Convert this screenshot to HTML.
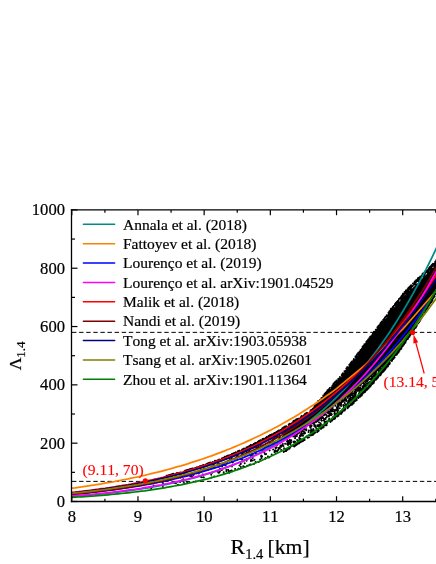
<!DOCTYPE html>
<html><head><meta charset="utf-8"><title>Lambda-R</title>
<style>text{stroke-width:0.2px;font-kerning:none}html,body{margin:0;padding:0;background:#fff;width:436px;height:564px;overflow:hidden;font-family:"Liberation Serif",serif}</style>
</head><body>
<svg width="436" height="564" viewBox="0 0 436 564" style="position:absolute;left:0;top:0;will-change:transform;font-family:'Liberation Serif',serif">
<rect width="436" height="564" fill="#fff"/>
<defs><clipPath id="c"><rect x="72" y="210" width="364" height="291.5"/></clipPath></defs>
<g stroke="#000" stroke-width="1" stroke-dasharray="4.4,2.7" fill="none">
<path d="M72 481.39H436"/>
<path d="M72 332.37H436"/>
</g>
<g clip-path="url(#c)">
<path fill="#000" d="M283.6 429.2 L284.9 428.4 L286.2 427.5 L287.5 426.7 L288.9 425.9 L290.2 425.0 L291.5 424.2 L292.8 423.4 L294.2 422.5 L295.5 421.7 L296.8 420.9 L298.1 420.0 L299.5 419.2 L300.8 418.4 L302.1 417.5 L303.4 416.7 L304.8 415.9 L306.1 415.0 L307.4 414.2 L308.7 413.4 L310.0 412.5 L311.4 410.9 L312.7 409.4 L314.0 407.8 L315.3 406.3 L316.7 404.7 L318.0 403.2 L319.3 401.7 L320.6 400.1 L322.0 398.6 L323.3 397.1 L324.6 395.6 L325.9 394.0 L327.3 392.5 L328.6 391.0 L329.9 389.5 L331.2 388.0 L332.5 386.5 L333.9 385.0 L335.2 383.5 L336.5 382.1 L337.8 380.6 L339.2 379.1 L340.5 377.6 L341.8 376.2 L343.1 374.4 L344.5 372.7 L345.8 371.0 L347.1 369.2 L348.4 367.5 L349.8 365.8 L351.1 364.1 L352.4 362.3 L353.7 360.6 L355.1 358.8 L356.4 356.9 L357.7 355.1 L359.0 353.3 L360.3 351.5 L361.7 349.7 L363.0 347.9 L364.3 346.1 L365.6 344.4 L367.0 342.6 L368.3 340.9 L369.6 339.2 L370.9 337.5 L372.3 335.8 L373.6 334.1 L374.9 332.4 L376.2 330.7 L377.6 328.9 L378.9 327.1 L380.2 325.4 L381.5 323.6 L382.8 321.9 L384.2 320.2 L385.5 318.5 L386.8 316.9 L388.1 315.1 L389.5 313.3 L390.8 311.4 L392.1 309.8 L393.4 308.3 L394.8 306.8 L396.1 305.2 L397.4 303.7 L398.7 302.2 L400.1 300.7 L401.4 299.2 L402.7 297.6 L404.0 296.1 L405.3 294.6 L406.7 293.1 L408.0 291.9 L409.3 290.7 L410.6 289.6 L412.0 288.4 L413.3 287.2 L414.6 286.0 L415.9 284.8 L417.3 283.5 L418.6 282.2 L419.9 280.9 L421.2 279.6 L422.6 278.3 L423.9 276.9 L425.2 275.6 L426.5 274.3 L427.8 273.0 L429.2 271.7 L430.5 270.4 L431.8 269.1 L433.1 267.8 L434.5 266.5 L435.8 265.2 L437.1 263.8 L438.4 262.3 L439.8 260.8 L441.1 259.3 L442.4 257.7 L442.4 280.1 L441.1 282.6 L439.8 285.0 L438.4 287.4 L437.1 289.8 L435.8 292.2 L434.5 294.6 L433.1 296.9 L431.8 299.2 L430.5 301.5 L429.2 303.7 L427.8 306.0 L426.5 308.2 L425.2 310.4 L423.9 312.6 L422.6 314.7 L421.2 316.8 L419.9 318.9 L418.6 321.0 L417.3 323.1 L415.9 325.2 L414.6 327.2 L413.3 329.2 L412.0 331.2 L410.6 333.1 L409.3 335.1 L408.0 337.0 L406.7 338.9 L405.3 340.8 L404.0 342.7 L402.7 344.5 L401.4 346.4 L400.1 348.2 L398.7 350.0 L397.4 351.8 L396.1 353.5 L394.8 354.9 L393.4 356.2 L392.1 357.5 L390.8 358.9 L389.5 360.2 L388.1 361.4 L386.8 362.7 L385.5 364.0 L384.2 365.2 L382.8 366.4 L381.5 367.7 L380.2 368.9 L378.9 370.0 L377.6 371.2 L376.2 372.4 L374.9 373.6 L373.6 374.7 L372.3 375.8 L370.9 377.0 L369.6 378.1 L368.3 379.1 L367.0 380.2 L365.6 381.3 L364.3 382.3 L363.0 383.4 L361.7 384.4 L360.3 385.5 L359.0 386.5 L357.7 387.5 L356.4 388.5 L355.1 389.5 L353.7 390.5 L352.4 391.4 L351.1 392.4 L349.8 393.4 L348.4 394.3 L347.1 395.3 L345.8 396.2 L344.5 397.1 L343.1 398.0 L341.8 399.0 L340.5 399.9 L339.2 400.8 L337.8 401.7 L336.5 402.5 L335.2 403.7 L333.9 404.9 L332.5 406.0 L331.2 407.1 L329.9 408.3 L328.6 409.4 L327.3 410.5 L325.9 411.6 L324.6 412.6 L323.3 413.7 L322.0 414.8 L320.6 415.8 L319.3 416.8 L318.0 417.9 L316.7 418.9 L315.3 419.9 L314.0 420.9 L312.7 421.9 L311.4 422.8 L310.0 423.8 L308.7 424.7 L307.4 425.7 L306.1 426.6 L304.8 427.5 L303.4 428.4 L302.1 429.3 L300.8 430.2 L299.5 431.1 L298.1 432.0 L296.8 432.8 L295.5 433.7 L294.2 434.5 L292.8 435.4 L291.5 436.2 L290.2 437.0 L288.9 437.8 L287.5 438.6 L286.2 439.4 L284.9 440.2 L283.6 441.0Z"/>
<path fill="none" stroke="#000" stroke-width="2" stroke-linecap="round" d="M137.0 485.8h0M137.6 483.7h0M146.3 482.7h0M147.5 482.8h0M151.2 488.5h0M153.6 485.5h0M153.9 485.9h0M154.4 482.3h0M154.3 479.5h0M156.2 480.6h0M156.8 482.4h0M157.3 480.6h0M157.5 481.4h0M157.7 479.7h0M162.4 482.0h0M162.9 486.9h0M163.1 480.5h0M163.1 483.3h0M168.7 476.8h0M170.6 479.8h0M170.7 475.9h0M172.0 475.2h0M174.6 477.4h0M174.8 482.8h0M174.7 482.9h0M175.9 483.3h0M175.8 475.7h0M175.6 477.0h0M178.0 484.7h0M177.7 485.0h0M180.4 477.4h0M180.1 482.0h0M180.8 481.1h0M180.9 473.9h0M182.0 476.1h0M181.6 480.5h0M183.5 481.8h0M183.2 479.2h0M184.0 471.9h0M184.3 483.3h0M184.7 473.5h0M184.8 473.4h0M186.8 475.5h0M187.3 482.4h0M187.8 470.7h0M189.4 475.0h0M189.8 475.5h0M190.2 476.0h0M191.4 475.7h0M191.8 476.4h0M192.3 473.9h0M193.0 477.5h0M193.5 475.1h0M193.8 469.6h0M195.9 477.0h0M196.0 469.2h0M195.7 481.4h0M196.5 473.2h0M196.8 472.3h0M198.8 473.5h0M200.5 467.0h0M200.6 468.9h0M200.7 476.7h0M201.7 477.2h0M202.6 466.4h0M202.8 474.6h0M203.6 477.3h0M203.8 477.4h0M203.8 468.9h0M204.3 466.3h0M208.1 469.8h0M211.0 468.6h0M211.0 463.8h0M211.2 474.8h0M211.7 477.6h0M212.1 466.2h0M212.1 463.5h0M212.2 472.8h0M213.7 464.3h0M213.6 467.4h0M213.7 467.2h0M214.2 476.6h0M214.1 465.7h0M214.3 466.0h0M214.6 467.8h0M216.2 461.2h0M217.4 471.4h0M218.0 464.0h0M217.9 461.7h0M218.5 472.8h0M218.8 466.8h0M219.0 472.6h0M218.8 472.4h0M219.1 460.1h0M219.1 464.0h0M219.3 472.5h0M219.6 465.9h0M219.9 471.5h0M220.1 468.7h0M220.7 459.9h0M221.5 469.9h0M221.9 465.0h0M222.2 460.0h0M222.2 469.7h0M222.1 466.4h0M223.8 464.9h0M223.6 464.1h0M223.7 472.3h0M224.5 463.7h0M224.3 473.7h0M225.6 465.4h0M226.3 469.9h0M226.4 471.3h0M227.3 456.8h0M227.2 462.5h0M228.1 469.7h0M228.9 471.4h0M228.7 470.8h0M229.3 472.8h0M229.6 458.8h0M230.7 470.9h0M231.2 457.0h0M231.6 465.9h0M231.8 466.2h0M231.9 466.6h0M231.6 458.1h0M231.6 470.4h0M231.7 461.2h0M232.2 471.3h0M232.8 462.4h0M235.1 468.9h0M234.6 459.6h0M236.2 455.6h0M236.8 458.2h0M236.7 457.5h0M236.7 453.3h0M237.4 459.6h0M237.7 455.4h0M238.5 468.8h0M238.9 452.1h0M239.5 456.8h0M239.5 465.5h0M239.2 468.9h0M240.8 463.6h0M240.6 459.1h0M240.7 463.9h0M240.9 467.1h0M241.4 453.7h0M241.8 451.1h0M242.1 459.5h0M242.3 454.0h0M243.0 452.9h0M242.7 461.5h0M242.8 450.3h0M242.8 460.8h0M243.2 466.3h0M244.2 460.4h0M244.7 466.8h0M244.7 463.3h0M244.9 451.7h0M245.2 451.0h0M245.4 454.7h0M245.7 454.0h0M246.1 448.9h0M247.0 450.2h0M246.6 460.8h0M246.7 459.0h0M246.7 453.2h0M246.6 450.0h0M246.7 451.6h0M247.2 465.7h0M247.8 448.1h0M248.0 452.7h0M247.7 449.8h0M248.5 453.2h0M248.6 447.5h0M249.2 451.4h0M249.4 464.8h0M249.4 450.1h0M249.9 446.8h0M250.3 449.2h0M250.5 464.4h0M250.2 451.8h0M250.9 460.4h0M250.9 460.9h0M250.7 456.0h0M251.1 459.7h0M251.6 446.2h0M251.7 454.4h0M252.3 446.3h0M252.3 457.6h0M252.3 448.2h0M252.4 455.6h0M252.7 460.5h0M252.7 454.2h0M252.7 458.0h0M253.5 446.5h0M253.8 463.9h0M254.0 447.4h0M254.5 451.6h0M254.5 459.8h0M255.5 446.0h0M255.9 446.9h0M255.6 461.9h0M255.9 453.4h0M255.7 446.2h0M256.4 446.6h0M256.9 447.6h0M256.7 445.2h0M257.1 443.4h0M257.3 448.6h0M257.9 444.4h0M258.5 446.5h0M259.0 448.3h0M258.7 462.0h0M259.5 441.9h0M259.5 448.2h0M259.8 441.7h0M260.0 452.6h0M259.9 442.4h0M260.3 445.0h0M260.1 459.4h0M261.0 442.4h0M260.8 460.5h0M261.0 441.5h0M261.2 455.4h0M261.5 446.8h0M261.1 456.5h0M261.3 443.5h0M261.9 443.7h0M261.6 458.0h0M262.1 456.3h0M262.3 450.5h0M262.8 449.9h0M262.8 451.6h0M263.3 450.5h0M263.8 441.6h0M263.6 440.6h0M263.6 446.1h0M264.1 450.4h0M264.4 452.7h0M264.7 447.2h0M265.1 454.3h0M265.3 458.7h0M265.5 458.0h0M265.4 440.6h0M265.9 443.5h0M266.1 453.9h0M266.5 446.4h0M266.7 446.2h0M267.9 456.4h0M268.4 446.0h0M268.5 442.5h0M268.3 446.6h0M268.9 457.5h0M269.3 457.2h0M269.4 442.0h0M269.6 450.4h0M270.2 448.2h0M270.1 436.3h0M270.4 437.8h0M270.3 442.9h0M270.6 447.7h0M270.7 436.0h0M271.3 438.5h0M271.6 443.1h0M271.7 454.5h0M272.5 446.6h0M272.8 446.5h0M272.9 440.0h0M273.0 441.9h0M273.3 443.6h0M273.1 437.7h0M273.1 449.6h0M273.9 436.8h0M273.9 442.8h0M274.1 438.3h0M274.4 452.0h0M274.9 450.6h0M275.2 434.7h0M275.2 433.9h0M275.4 447.8h0M275.8 448.6h0M275.9 436.9h0M275.7 453.4h0M275.6 451.0h0M276.5 447.2h0M277.0 435.9h0M276.9 444.1h0M277.0 445.0h0M277.2 436.8h0M277.1 443.6h0M277.1 451.1h0M277.1 432.7h0M277.2 451.6h0M277.1 434.0h0M278.2 442.3h0M278.5 448.1h0M278.1 450.0h0M278.5 449.4h0M278.6 432.7h0M279.0 448.6h0M279.4 432.2h0M279.2 433.8h0M279.1 438.0h0M279.2 434.7h0M279.9 448.2h0M279.8 431.1h0M279.9 437.9h0M279.9 436.1h0M280.1 447.0h0M280.2 430.6h0M280.5 445.5h0M281.2 438.3h0M281.2 446.8h0M281.2 450.0h0M281.6 441.4h0M281.9 445.4h0M281.9 445.3h0M282.5 430.2h0M282.2 429.5h0M282.5 432.9h0M282.8 436.7h0M282.9 443.9h0M282.7 441.1h0M283.4 446.1h0M283.6 438.9h0M284.0 436.1h0M283.6 431.6h0M284.1 448.2h0M285.1 443.8h0M285.9 449.1h0M287.0 441.5h0M287.1 444.0h0M287.2 439.6h0M287.3 438.5h0M287.6 441.7h0M287.8 443.3h0M288.0 444.9h0M288.2 441.0h0M288.5 444.4h0M288.7 441.1h0M288.6 443.0h0M288.9 440.7h0M288.9 444.0h0M289.4 440.8h0M289.9 442.7h0M289.8 439.8h0M289.6 446.9h0M290.5 444.0h0M290.8 441.2h0M291.3 440.3h0M291.2 445.7h0M291.2 442.2h0M291.7 445.9h0M292.8 435.1h0M293.2 436.5h0M293.5 441.8h0M293.7 442.3h0M294.5 441.6h0M295.0 435.2h0M294.9 436.4h0M295.1 438.2h0M295.2 441.8h0M295.2 442.0h0M295.6 436.5h0M296.8 434.6h0M296.9 435.9h0M297.5 440.5h0M297.1 439.9h0M297.4 440.6h0M297.1 432.2h0M297.6 432.4h0M297.9 433.4h0M298.4 441.0h0M299.3 437.5h0M299.3 438.2h0M299.3 440.1h0M299.2 432.7h0M299.3 431.6h0M299.3 431.1h0M299.3 431.7h0M299.8 439.2h0M299.9 435.6h0M299.7 439.2h0M300.4 436.2h0M300.4 430.3h0M301.0 434.0h0M300.9 430.0h0M300.7 435.7h0M300.7 438.9h0M301.3 433.1h0M301.5 434.5h0M301.5 431.6h0M302.0 433.6h0M301.9 435.4h0M302.3 431.0h0M303.0 435.7h0M302.6 433.4h0M303.5 429.4h0M303.9 433.8h0M303.9 433.4h0M303.9 429.2h0M303.9 431.7h0M303.6 428.4h0M304.7 432.3h0M304.8 429.4h0M304.8 429.6h0M305.0 433.3h0M304.8 427.4h0M306.3 429.3h0M306.5 436.5h0M306.3 430.3h0M306.4 426.6h0M306.6 425.8h0M307.1 436.3h0M307.9 425.1h0M308.4 424.9h0M308.5 432.0h0M308.9 430.5h0M309.4 434.9h0M309.1 424.0h0M309.9 426.0h0M310.0 424.7h0M310.3 427.5h0M310.7 432.2h0M310.9 430.4h0M311.2 429.2h0M311.5 423.3h0M311.5 430.7h0M311.4 426.4h0M311.7 432.6h0M311.9 430.2h0M312.0 432.7h0M311.6 425.5h0M312.5 431.4h0M312.5 422.3h0M312.9 431.0h0M312.7 432.2h0M312.8 422.5h0M312.7 430.8h0M313.3 429.1h0M313.2 423.5h0M313.4 430.0h0M313.9 430.3h0M314.3 426.0h0M314.1 422.6h0M314.4 422.5h0M314.3 424.7h0M315.1 420.5h0M314.6 424.4h0M315.2 426.8h0M315.1 425.8h0M316.3 428.2h0M316.4 430.3h0M316.5 428.7h0M316.1 421.9h0M316.6 419.5h0M317.3 425.3h0M317.5 419.5h0M317.3 421.2h0M317.5 425.9h0M317.2 426.2h0M318.0 429.5h0M318.2 420.4h0M318.9 426.6h0M319.0 424.9h0M318.6 417.6h0M319.2 417.8h0M319.1 419.7h0M319.1 422.5h0M319.1 419.5h0M319.1 424.9h0M319.7 427.6h0M320.0 427.7h0M320.5 417.0h0M320.4 426.2h0M320.6 423.2h0M320.6 418.1h0M320.8 424.3h0M321.1 420.1h0M321.5 418.4h0M321.7 420.7h0M322.4 425.4h0M322.3 416.8h0M322.2 417.8h0M323.0 417.4h0M322.9 414.5h0M323.0 417.5h0M323.0 414.0h0M322.6 418.1h0M323.7 424.6h0M323.6 420.2h0M323.9 415.3h0M324.4 413.7h0M324.2 418.9h0M324.6 414.8h0M324.8 421.5h0M324.6 421.4h0M324.7 422.5h0M325.3 423.4h0M325.2 423.0h0M325.5 414.2h0M325.6 419.0h0M325.8 418.1h0M326.5 421.5h0M326.4 415.1h0M327.0 421.9h0M326.8 417.0h0M327.2 422.7h0M327.1 412.5h0M327.9 411.0h0M327.6 412.3h0M328.4 420.7h0M328.1 409.9h0M328.3 415.8h0M328.1 413.0h0M328.6 420.2h0M328.9 416.4h0M329.3 419.5h0M329.5 413.7h0M329.2 418.7h0M329.2 411.6h0M330.0 414.9h0M329.7 420.4h0M329.9 413.6h0M329.8 412.9h0M329.8 409.0h0M329.6 414.7h0M330.4 408.1h0M330.4 411.2h0M330.3 411.3h0M330.4 419.9h0M330.3 411.0h0M330.5 413.4h0M330.2 411.4h0M330.8 410.8h0M330.6 414.3h0M330.6 408.9h0M330.8 411.1h0M331.5 414.1h0M331.3 414.9h0M331.8 414.6h0M331.7 410.5h0M331.8 409.3h0M331.8 411.5h0M333.0 409.3h0M332.9 409.5h0M332.6 407.6h0M332.8 417.2h0M333.4 411.0h0M333.9 417.6h0M334.4 413.4h0M334.5 415.8h0M334.6 415.6h0M334.8 414.2h0M335.0 410.6h0M334.8 411.6h0M335.0 414.4h0M334.7 412.0h0M334.8 409.9h0M334.7 413.6h0M335.5 414.1h0M335.3 410.2h0M335.2 405.8h0M335.7 415.5h0M336.0 414.5h0M335.7 416.0h0M336.3 403.1h0M336.5 409.3h0M336.7 410.2h0M336.9 415.1h0M336.6 409.3h0M336.8 407.2h0M336.8 409.8h0M337.0 414.1h0M336.8 408.7h0M337.5 406.0h0M337.3 413.0h0M337.5 403.2h0M337.5 411.1h0M337.5 415.3h0M337.8 408.3h0M337.6 403.9h0M338.4 406.6h0M338.4 405.2h0M338.2 401.1h0M338.3 412.4h0M338.2 410.1h0M338.8 414.1h0M338.6 406.2h0M338.9 402.8h0M338.6 402.1h0M339.4 400.5h0M339.4 404.7h0M339.1 405.1h0M339.1 403.9h0M339.3 412.5h0M339.8 411.9h0M339.8 412.8h0M339.7 408.3h0M340.5 411.6h0M340.4 403.7h0M340.3 412.4h0M341.0 403.4h0M340.9 405.7h0M340.6 402.5h0M340.6 404.1h0M341.2 406.0h0M341.1 404.3h0M341.5 400.6h0M341.7 402.3h0M341.9 399.1h0M342.5 401.8h0M342.3 400.0h0M342.5 409.2h0M342.7 410.3h0M342.8 410.2h0M342.8 400.9h0M343.2 405.1h0M343.4 400.8h0M343.5 400.3h0M343.7 407.1h0M343.8 405.6h0M343.7 401.2h0M344.2 407.7h0M344.7 402.9h0M344.7 397.4h0M344.6 399.4h0M345.1 399.7h0M345.4 404.7h0M345.3 400.6h0M345.4 404.5h0M345.5 399.3h0M345.4 400.6h0M345.1 398.5h0M345.6 396.4h0M345.7 398.3h0M345.6 400.6h0M346.2 404.4h0M346.4 400.9h0M346.1 399.8h0M346.4 405.8h0M346.9 405.6h0M347.4 396.2h0M347.7 402.9h0M348.0 403.5h0M347.6 397.8h0M348.3 402.5h0M348.5 400.2h0M348.4 395.6h0M348.4 394.6h0M348.2 403.8h0M348.5 400.7h0M348.3 401.7h0M348.1 397.1h0M348.9 395.4h0M348.7 401.7h0M348.8 396.6h0M349.2 400.0h0M349.3 403.0h0M349.1 402.4h0M349.4 401.3h0M349.4 398.8h0M349.6 395.4h0M349.7 396.3h0M349.8 401.3h0M350.1 396.9h0M350.1 393.5h0M350.8 397.9h0M350.8 394.5h0M351.0 392.4h0M350.9 399.8h0M350.9 403.1h0M350.7 395.2h0M351.5 400.8h0M352.0 400.5h0M351.7 400.0h0M352.0 393.7h0M351.7 395.2h0M351.7 397.8h0M352.4 397.6h0M352.4 400.5h0M352.6 397.3h0M352.6 398.5h0M353.0 395.8h0M352.6 391.8h0M352.6 395.8h0M353.5 399.8h0M353.8 393.8h0M354.0 397.4h0M353.6 400.1h0M353.8 393.4h0M353.7 396.3h0M354.3 393.3h0M354.7 396.0h0M355.0 395.5h0M354.9 394.6h0M354.7 392.6h0M354.6 398.9h0M354.9 391.4h0M354.6 394.2h0M354.7 396.5h0M355.5 390.9h0M355.1 394.9h0M355.2 398.2h0M355.3 390.0h0M355.3 391.7h0M355.8 394.1h0M355.8 389.5h0M355.8 389.4h0M356.5 389.3h0M356.1 392.4h0M356.3 398.4h0M356.1 396.4h0M356.1 396.4h0M356.2 390.7h0M357.4 396.7h0M357.3 396.5h0M357.5 397.0h0M357.4 389.2h0M357.9 390.9h0M357.9 396.8h0M357.9 387.5h0M357.8 388.1h0M358.3 388.7h0M358.3 395.2h0M358.1 387.9h0M358.5 387.8h0M358.6 390.2h0M358.8 395.1h0M359.0 393.3h0M359.1 389.4h0M360.0 387.4h0M359.7 392.3h0M359.6 390.3h0M360.2 388.4h0M360.3 393.9h0M360.1 385.6h0M360.3 388.7h0M360.7 390.4h0M360.8 385.0h0M360.6 394.3h0M361.2 389.2h0M361.3 389.8h0M361.5 393.6h0M362.0 391.3h0M362.5 391.8h0M362.2 390.0h0M362.4 390.8h0M362.4 388.4h0M362.3 386.9h0M362.7 386.4h0M363.1 386.0h0M363.5 382.9h0M363.3 387.0h0M363.2 388.0h0M363.7 385.2h0M364.3 383.6h0M364.2 390.9h0M364.3 389.0h0M364.1 389.8h0M364.5 386.4h0M364.2 384.5h0M365.2 384.7h0M365.5 386.5h0M365.2 386.9h0M365.7 388.4h0M365.6 382.0h0M366.0 385.5h0M366.0 386.4h0M366.2 386.2h0M366.3 380.9h0M366.4 380.8h0M366.3 383.3h0M366.8 387.8h0M366.6 388.3h0M366.9 385.2h0M367.1 380.9h0M367.8 383.6h0M367.9 383.8h0M367.7 384.1h0M368.5 385.0h0M368.2 382.5h0M368.5 383.0h0M368.1 379.9h0M368.4 382.7h0M368.6 378.7h0M368.8 378.9h0M368.6 382.8h0M368.7 385.9h0M368.6 379.6h0M369.2 384.1h0M369.3 385.7h0M369.2 383.0h0M369.6 383.2h0M369.8 382.6h0M369.6 384.3h0M369.8 381.9h0M370.3 379.2h0M370.2 378.9h0M370.4 382.9h0M370.6 379.5h0M371.0 383.2h0M370.9 378.8h0M371.1 382.9h0M371.4 381.4h0M371.3 379.7h0M372.0 377.2h0M371.7 383.1h0M371.6 376.1h0M371.6 382.9h0M371.6 382.5h0M372.1 380.3h0M372.5 377.9h0M372.9 376.7h0M372.6 379.9h0M372.7 378.6h0M373.2 381.4h0M373.1 380.6h0M373.9 375.4h0M373.9 375.2h0M374.5 377.1h0M374.2 376.1h0M374.6 375.1h0M374.8 373.6h0M374.8 376.0h0M374.6 375.7h0M375.3 374.9h0M375.2 379.1h0M375.3 375.4h0M375.6 373.8h0M375.4 373.0h0M375.2 378.8h0M375.2 376.8h0M375.2 374.4h0M375.7 376.8h0M375.8 376.5h0M376.0 374.4h0M375.9 372.5h0M376.2 376.6h0M376.2 376.4h0M376.4 375.2h0M376.2 376.2h0M376.3 375.9h0M376.8 377.0h0M376.8 375.9h0M377.3 376.6h0M377.3 374.2h0M377.8 375.4h0M378.0 374.4h0M378.5 372.4h0M378.1 374.8h0M378.7 370.4h0M379.6 371.5h0M379.3 373.1h0M379.5 371.9h0M379.7 371.6h0M379.7 370.8h0M379.6 370.9h0M380.4 369.4h0M380.2 369.9h0M381.0 371.1h0M380.8 369.0h0M381.2 369.7h0M381.2 371.0h0M381.4 369.5h0M381.6 371.4h0M381.9 371.6h0M381.9 368.8h0M382.2 370.1h0M382.8 368.8h0M383.0 368.2h0M382.8 368.0h0M382.8 370.1h0M383.4 365.9h0M383.4 368.1h0M383.1 369.0h0M383.1 366.7h0M383.1 369.2h0M384.4 367.5h0M384.1 366.7h0M384.8 365.6h0M385.0 364.4h0M384.7 365.4h0M384.7 365.5h0M384.8 367.6h0M384.8 366.3h0M385.6 364.1h0M385.7 365.3h0M385.8 365.0h0M385.7 365.5h0M386.1 364.8h0M386.3 364.0h0M387.0 363.3h0M386.9 363.4h0M387.1 364.7h0M387.4 363.3h0M387.5 362.1h0M387.4 362.2h0M388.2 362.9h0M388.5 361.6h0M388.5 361.4h0M388.1 361.6h0M389.5 360.7h0M389.1 361.8h0M389.4 360.2h0M390.3 359.6h0M391.0 358.9h0M392.0 359.1h0M392.4 357.7h0M393.4 356.8h0M394.1 356.0h0M394.7 354.9h0M394.8 355.3h0M394.6 355.5h0M395.6 353.9h0M397.5 351.9h0M398.9 350.2h0M384.7 319.1h0M387.1 315.4h0M388.6 313.9h0M389.4 313.5h0M390.4 310.4h0M390.8 310.4h0M397.8 301.5h0M398.2 302.3h0M398.7 300.6h0M400.8 298.0h0M401.1 299.4h0M401.5 298.2h0M402.2 297.9h0M402.8 296.7h0M403.3 295.9h0M405.0 292.7h0M404.9 292.9h0M406.1 293.5h0M406.3 293.4h0M406.2 291.6h0M406.4 292.7h0M406.5 290.9h0M407.3 293.0h0M407.3 292.3h0M407.3 292.5h0M407.8 292.0h0M408.3 290.7h0M408.8 291.1h0M409.4 289.0h0M410.7 287.9h0M410.7 289.3h0M410.9 288.3h0M411.3 287.2h0M411.1 289.0h0M411.6 285.5h0M412.6 286.2h0M414.4 283.6h0M414.7 284.2h0M415.2 282.2h0M415.3 282.8h0M416.0 284.6h0M416.6 284.4h0M416.6 284.5h0M417.6 279.6h0M418.5 280.0h0M418.4 280.8h0M419.3 281.7h0M419.2 278.4h0M419.8 279.1h0M420.1 279.8h0M420.3 279.1h0M420.4 280.0h0M421.2 279.7h0M421.2 279.1h0M423.1 276.5h0M422.9 275.7h0M423.7 274.8h0M423.6 275.4h0M424.0 277.0h0M424.2 275.9h0M424.0 273.8h0M424.4 274.8h0M424.8 273.3h0M424.7 273.4h0M426.4 272.0h0M426.8 271.5h0M427.5 271.3h0M427.9 272.9h0M428.1 272.6h0M428.4 271.8h0M428.6 271.0h0M429.0 271.9h0M429.1 269.4h0M429.7 267.9h0M430.3 268.3h0M430.0 267.6h0M430.6 270.0h0M430.4 268.0h0M431.2 267.9h0M431.3 269.3h0M431.0 267.9h0M431.4 269.3h0M432.2 268.9h0M434.3 266.0h0M434.6 263.9h0M435.2 265.4h0M435.1 266.0h0M435.3 265.3h0M435.7 264.7h0M435.7 263.0h0M435.4 264.3h0M436.0 262.3h0M437.2 260.6h0M437.3 261.6h0M436.8 262.8h0M172.7 474.4h0M168.0 475.9h0M197.5 467.9h0M166.8 476.7h0M171.0 474.8h0M201.9 465.7h0M184.2 471.6h0M177.4 473.9h0M176.9 474.1h0M212.6 462.3h0M166.3 476.8h0M166.1 476.4h0M189.7 469.3h0M202.0 466.3h0M199.3 466.7h0M195.0 468.4h0M177.9 473.8h0M223.8 458.5h0M221.7 458.6h0M223.2 457.7h0M192.9 468.4h0M191.5 469.6h0M206.6 464.3h0M184.8 470.9h0M188.4 470.0h0M176.0 474.2h0M195.2 468.1h0M176.2 474.1h0M176.2 473.5h0M197.8 467.6h0M222.4 458.9h0M220.9 459.7h0M207.5 464.4h0M168.2 475.5h0M165.2 477.2h0M207.5 464.3h0M180.2 472.5h0M174.2 474.5h0M223.5 457.9h0M167.1 475.7h0M185.6 471.7h0M212.4 462.3h0M170.5 474.8h0M173.6 474.9h0M192.5 469.7h0M218.8 460.4h0M192.8 469.4h0M172.1 474.3h0M198.0 467.3h0M176.9 473.2h0M165.7 477.1h0M206.8 465.0h0M222.9 458.3h0M208.1 463.7h0M212.8 462.7h0M172.4 474.1h0M177.2 473.6h0M187.0 470.0h0M213.9 462.2h0M192.1 468.5h0M217.4 460.5h0M168.7 475.5h0M201.7 466.6h0M193.3 469.0h0M176.7 473.3h0M218.4 459.9h0M170.6 475.4h0M172.0 474.5h0M191.6 469.4h0M202.4 466.1h0M190.6 469.0h0M207.6 463.4h0M192.5 468.9h0M204.5 465.4h0M178.7 473.3h0M205.7 464.7h0M172.9 475.3h0M200.1 466.0h0M178.7 473.8h0M178.1 473.1h0M211.4 463.1h0M202.2 466.2h0M166.7 475.7h0M222.6 458.9h0M166.7 475.7h0M178.8 473.7h0M177.5 473.7h0M219.9 459.7h0M219.2 459.5h0M173.6 473.8h0M209.5 462.8h0M222.4 458.9h0M175.6 474.4h0M174.1 474.4h0M170.8 475.7h0M217.4 461.0h0M164.6 477.3h0M197.6 467.9h0M194.4 468.6h0M199.9 467.1h0M169.1 475.1h0M196.9 467.3h0M188.1 469.7h0M208.8 462.9h0M213.9 462.2h0M191.7 468.7h0M203.2 465.1h0M190.0 469.2h0M222.6 458.5h0M185.4 470.6h0M207.9 464.4h0M215.0 460.8h0M186.3 470.6h0M209.9 462.7h0M200.6 467.1h0M210.2 462.4h0M168.9 475.2h0M205.7 464.8h0M195.4 468.0h0M188.7 470.3h0M363.5 347.6h0M381.6 323.6h0M420.4 278.0h0M378.2 326.3h0M370.5 338.4h0M316.7 405.0h0M262.7 441.3h0M319.0 401.9h0M278.4 431.3h0M299.0 418.4h0M244.4 449.4h0M435.0 263.2h0M424.5 273.7h0M404.0 295.1h0M385.9 316.6h0M277.7 432.0h0M228.5 455.7h0M414.6 283.8h0M294.7 422.2h0M390.7 311.2h0M394.9 305.1h0M246.6 449.3h0M291.5 423.9h0M303.0 416.4h0M431.7 265.1h0M338.2 379.9h0M339.8 378.8h0M311.7 411.0h0M372.4 336.2h0M243.3 449.3h0M285.8 428.2h0M226.9 456.4h0M378.0 328.9h0M261.9 440.4h0M371.8 336.3h0M384.5 319.7h0M277.5 431.8h0M230.0 456.3h0M269.0 436.3h0M431.4 266.6h0M351.2 363.7h0M352.6 361.9h0M289.4 423.8h0M238.4 451.0h0M301.8 416.2h0M248.3 447.6h0M432.5 265.6h0M282.8 429.7h0M262.3 439.4h0M289.2 424.8h0M372.3 335.0h0M380.7 323.1h0M424.5 272.7h0M403.0 293.8h0M402.3 295.3h0M407.9 290.2h0M368.3 339.8h0M226.1 456.6h0M418.6 278.0h0M365.8 343.7h0M366.2 342.1h0M254.9 443.2h0M435.4 262.1h0M364.3 345.6h0M272.0 434.3h0M227.2 457.8h0M252.0 446.9h0M302.2 417.4h0M253.8 445.5h0M278.1 431.6h0M336.5 380.4h0M277.4 433.2h0M285.4 427.1h0M388.5 312.8h0M265.7 437.9h0M306.6 413.7h0M362.0 348.6h0M411.1 285.2h0M366.8 343.1h0M274.5 432.9h0M318.3 401.2h0M322.9 397.4h0M244.2 448.7h0M327.2 391.2h0M273.6 434.4h0M249.5 445.9h0M301.7 417.1h0M425.5 272.3h0M239.4 451.1h0M384.1 319.7h0M411.2 287.3h0M408.5 287.8h0M427.0 270.7h0M275.6 432.7h0M410.0 286.6h0M241.9 450.1h0M422.8 274.7h0M381.3 322.2h0M321.5 398.1h0M268.2 437.8h0M301.7 416.2h0M435.7 262.0h0M262.7 438.9h0M364.5 345.3h0M229.3 456.0h0M383.3 320.7h0M274.4 434.2h0M354.1 359.8h0M255.2 444.8h0M427.4 270.8h0M408.4 288.6h0M418.2 278.5h0M272.8 435.2h0M417.9 278.5h0M270.7 434.9h0M318.4 401.1h0M265.2 439.5h0M349.5 366.6h0M310.5 411.8h0M226.7 458.2h0M274.2 434.2h0M334.1 385.3h0M329.9 390.1h0M357.6 353.9h0M403.4 293.8h0M439.0 258.2h0M272.7 436.2h0M293.2 422.2h0M297.8 420.0h0M229.0 455.9h0M258.9 443.0h0M224.0 458.4h0M279.5 431.0h0M344.9 372.1h0M253.6 444.2h0M249.9 447.9h0M256.1 442.7h0M336.3 381.8h0M414.7 281.6h0M274.4 433.3h0M350.0 364.7h0M312.0 410.5h0M366.3 343.7h0M429.8 267.3h0M426.6 270.8h0M235.1 454.7h0M246.4 447.4h0M286.3 426.3h0M432.0 266.7h0M314.4 406.8h0M406.6 291.5h0M364.6 345.1h0M249.1 446.5h0M365.6 344.0h0M396.3 304.3h0M431.0 265.9h0M240.4 452.3h0M346.7 368.4h0M372.9 333.8h0M274.9 433.6h0M336.7 381.7h0M239.8 452.2h0M358.3 353.6h0M368.6 340.7h0M226.1 457.3h0M369.8 338.8h0M363.3 346.0h0M430.2 268.2h0M274.1 434.1h0M430.0 266.9h0M312.0 410.7h0M417.6 279.2h0M382.2 321.8h0M366.7 343.0h0M251.5 445.3h0M270.2 435.7h0M231.7 454.2h0M311.4 410.1h0M240.7 451.4h0M426.7 271.1h0M300.5 418.4h0M318.1 401.7h0M327.6 390.2h0M369.4 338.0h0M303.5 417.1h0M388.9 313.7h0M362.1 348.8h0M375.6 332.0h0M266.2 439.0h0M288.7 424.7h0M400.7 298.1h0M406.8 291.5h0M350.7 363.2h0M227.2 457.0h0M380.1 324.3h0M239.1 450.7h0M261.3 441.4h0M224.9 457.2h0M281.0 430.7h0M436.3 260.2h0M248.6 448.5h0M432.6 264.2h0M296.1 420.7h0M292.9 422.5h0M327.0 391.5h0M235.8 452.3h0M259.0 441.1h0M358.2 354.2h0M280.6 431.2h0M380.8 323.6h0M329.8 388.1h0M423.8 273.9h0M235.0 452.8h0M373.0 334.0h0M378.2 326.7h0M395.5 305.1h0M244.3 449.8h0M265.2 439.4h0M396.9 303.2h0M273.8 433.5h0M366.7 342.5h0M253.7 444.0h0M349.3 364.8h0M360.4 350.2h0M279.6 430.9h0M338.7 379.6h0M230.7 456.1h0M271.5 435.1h0M361.6 349.6h0M356.2 357.5h0M268.0 437.0h0M366.5 342.0h0M257.9 442.0h0M389.9 312.2h0M378.1 328.7h0M394.9 304.6h0M291.9 423.9h0M236.0 453.5h0M243.2 448.9h0M334.5 382.8h0M424.4 274.1h0M323.3 395.6h0M249.7 446.9h0M336.1 381.5h0M378.1 327.6h0M390.8 309.1h0M239.1 451.6h0M328.0 390.4h0M367.8 340.2h0M292.5 422.9h0M377.2 329.4h0M304.0 415.6h0M423.5 275.1h0M357.1 354.3h0M322.0 398.2h0M283.9 427.2h0M435.0 263.7h0M251.7 445.7h0M357.2 354.6h0M238.8 452.7h0M389.8 311.4h0M242.4 450.1h0M244.2 450.7h0M235.0 453.1h0M389.2 311.6h0M246.9 447.2h0M259.3 442.0h0M403.2 294.0h0M261.4 441.5h0M315.6 404.9h0M250.5 445.8h0M433.0 263.7h0M279.8 431.5h0M415.8 282.6h0M325.7 394.8h0M353.9 359.1h0M324.1 396.1h0M381.9 321.6h0M265.7 439.8h0M247.0 449.0h0M296.9 419.5h0M278.9 431.4h0M437.1 259.7h0M407.8 289.1h0M261.2 441.6h0M297.5 419.0h0M314.0 408.0h0M409.6 287.9h0M226.3 457.9h0M354.5 359.9h0M428.8 268.4h0M406.5 291.6h0M281.2 429.7h0M304.6 414.9h0M305.4 413.9h0M272.9 436.0h0M312.3 409.5h0M414.9 283.2h0M276.6 434.0h0M397.0 303.7h0M380.6 324.8h0M398.9 299.5h0M365.1 344.1h0M404.6 292.1h0M340.0 377.2h0M400.5 297.7h0M405.5 292.8h0M413.0 283.5h0M425.8 272.4h0M369.6 339.0h0M234.3 454.9h0M341.8 375.4h0M297.0 420.8h0M392.3 309.2h0M270.1 436.0h0M277.6 431.3h0M294.4 420.6h0M395.3 303.8h0M239.2 450.8h0M383.4 319.7h0M323.4 396.1h0M396.6 304.1h0M290.7 424.4h0M416.5 280.9h0M417.5 280.5h0M291.0 424.8h0M347.3 367.3h0M350.4 365.2h0M335.5 382.5h0M313.6 408.6h0M367.2 341.0h0M302.0 416.6h0M430.2 268.0h0M250.9 447.3h0M231.5 455.4h0M317.0 404.2h0M316.4 403.4h0M336.6 382.1h0M393.7 306.1h0M271.8 436.1h0M396.5 302.4h0M414.0 284.7h0M317.2 403.1h0M376.7 330.5h0M267.4 437.3h0M294.8 422.1h0M264.2 439.5h0M331.6 387.3h0M254.8 445.4h0M439.1 258.4h0M395.1 304.0h0M419.8 277.9h0M387.4 316.1h0M301.8 418.1h0M268.6 435.9h0M332.1 387.4h0M417.7 280.9h0M333.9 385.4h0M344.5 371.2h0M359.7 352.4h0M315.2 406.1h0M279.8 430.4h0M314.4 406.8h0M324.7 393.7h0M225.2 457.3h0M378.2 328.0h0M275.0 433.2h0M335.1 382.1h0M353.7 361.0h0M267.5 437.9h0M379.0 326.9h0M377.2 329.3h0M282.6 430.0h0M423.0 273.5h0M427.1 270.4h0M242.6 449.3h0M395.4 304.8h0M254.6 444.3h0M361.4 350.7h0M296.3 421.2h0M276.7 432.1h0M258.7 442.0h0M357.0 355.0h0M258.8 441.5h0M242.3 449.7h0M291.9 423.3h0M263.5 439.7h0M318.6 403.0h0M328.6 391.4h0M325.4 393.2h0M351.3 362.2h0M260.4 440.3h0M374.9 333.0h0M310.8 410.6h0M315.5 405.1h0M372.6 334.5h0M256.8 444.1h0M347.2 367.3h0M406.7 291.1h0M300.3 418.4h0M421.9 275.4h0M317.1 403.1h0M343.2 374.1h0M382.1 323.3h0M255.3 443.7h0M407.2 290.9h0M350.9 364.1h0M297.2 421.1h0M342.2 374.8h0M263.2 438.9h0M417.1 281.2h0M229.8 455.4h0M327.2 391.9h0M302.2 417.8h0M299.3 418.8h0M423.9 274.0h0M326.6 392.2h0M307.3 413.9h0M393.1 306.7h0M303.7 415.6h0M302.1 417.9h0M339.9 377.0h0M295.5 421.8h0M258.5 442.8h0M228.7 455.5h0M236.8 453.7h0M255.6 443.2h0M236.4 452.5h0M381.8 323.2h0M419.8 278.8h0M342.5 375.7h0M243.3 451.1h0M317.4 402.5h0M384.9 319.4h0M307.0 412.8h0M411.8 286.2h0M352.4 362.9h0M232.2 453.7h0M250.7 445.1h0M376.4 330.2h0M248.2 446.8h0M262.9 440.3h0M368.7 341.0h0M301.6 418.4h0M317.5 402.9h0M278.5 431.1h0M433.6 265.3h0M375.8 329.7h0M262.7 439.3h0M299.5 419.1h0M236.7 453.0h0M370.4 336.4h0M318.6 402.6h0M347.8 367.5h0M413.6 284.1h0M296.5 420.2h0M426.9 271.6h0M420.8 276.9h0M254.7 443.5h0M306.5 414.6h0M225.0 458.5h0M393.1 307.3h0M225.2 458.4h0M313.1 408.7h0M346.6 369.8h0M311.9 410.8h0M429.5 269.2h0M356.3 355.9h0M305.0 414.5h0M418.4 279.8h0M393.5 307.5h0M437.1 261.0h0M292.5 423.6h0M280.4 430.8h0M258.1 443.4h0M329.1 389.1h0M422.5 274.0h0M424.1 274.1h0M256.1 444.2h0M347.3 369.3h0M350.2 364.4h0M424.8 271.8h0M391.2 308.6h0M283.5 427.6h0M411.4 285.8h0M380.2 324.1h0M381.1 323.9h0M245.0 449.2h0M379.3 325.3h0M364.7 344.3h0M303.7 416.9h0M426.9 272.0h0M315.8 405.3h0M397.9 302.0h0M322.1 398.7h0M310.3 412.6h0M325.7 392.7h0M385.1 317.3h0M370.2 336.7h0M436.6 261.2h0M383.3 319.7h0M361.0 349.7h0M277.6 433.1h0M231.2 455.2h0M242.7 451.2h0M416.1 280.2h0M323.9 395.6h0M378.6 327.4h0M297.8 420.7h0M263.9 438.7h0M399.2 298.7h0M264.0 439.5h0M296.4 419.7h0M424.0 273.5h0M393.0 306.7h0M420.3 276.5h0M419.0 278.8h0M432.9 265.5h0M359.7 351.8h0M407.9 289.3h0M245.2 450.2h0M397.3 302.5h0M384.2 318.7h0M323.7 396.8h0M430.9 267.8h0M258.5 442.8h0M343.2 373.5h0M260.1 440.6h0M325.2 394.2h0M281.6 429.5h0M343.2 374.4h0M350.8 363.0h0M414.6 282.5h0M430.4 268.4h0M254.2 444.8h0M432.0 265.5h0M341.8 375.1h0M230.2 455.0h0M250.7 445.8h0M359.4 352.3h0M428.0 270.1h0M301.9 418.1h0M360.4 350.9h0M409.5 288.2h0M301.5 417.5h0M288.6 426.6h0M276.5 434.2h0M237.9 451.2h0M343.0 373.2h0M333.2 384.2h0M404.0 294.2h0M371.2 337.6h0M437.4 260.6h0M377.4 327.2h0M234.6 453.7h0M432.4 264.8h0M346.3 368.4h0M313.4 408.9h0M350.8 364.6h0M226.8 456.3h0M262.6 441.1h0M245.9 449.9h0M281.5 430.8h0M334.9 382.8h0M431.9 265.6h0M374.0 331.8h0M402.6 296.7h0M247.8 448.5h0M282.2 428.6h0M302.4 417.1h0M429.1 269.8h0M437.7 260.1h0M364.6 344.3h0M380.2 324.9h0M301.2 418.4h0M278.9 430.6h0M258.0 441.7h0M350.6 364.8h0M258.4 442.4h0M347.6 368.1h0M312.8 408.7h0M227.3 455.8h0M314.9 405.5h0M386.8 315.3h0M401.2 296.6h0M243.9 449.7h0M307.4 413.2h0M388.6 312.7h0M368.1 341.3h0M321.4 398.6h0M422.7 275.1h0M262.9 439.0h0M241.7 450.3h0M243.1 450.5h0M315.1 405.4h0M334.2 385.1h0M276.6 432.1h0M289.7 424.3h0M419.7 278.3h0M316.3 403.7h0M233.8 453.2h0M406.3 291.4h0M257.7 443.1h0M236.6 453.0h0M296.1 419.6h0M383.7 320.6h0M333.8 383.6h0M368.0 340.5h0M366.2 341.9h0M418.1 278.1h0M271.9 435.2h0M266.7 437.1h0M371.9 336.9h0M296.1 420.1h0M368.3 339.6h0M310.2 412.1h0M316.7 403.2h0M239.2 452.0h0M437.1 261.6h0M245.5 449.0h0M329.1 389.0h0M368.1 340.5h0M398.0 300.7h0M424.9 273.5h0M325.9 392.6h0M328.0 390.0h0M371.5 336.6h0M348.4 368.1h0M233.7 454.7h0M396.3 302.4h0M293.3 421.3h0M349.4 366.1h0M298.9 419.4h0M302.9 416.9h0M283.6 429.8h0M318.2 401.0h0M243.7 450.4h0M410.0 287.7h0M257.4 443.8h0M378.2 326.4h0M305.9 414.9h0M224.8 456.7h0M300.1 419.1h0M438.3 258.7h0M419.5 278.7h0M410.1 287.5h0M432.5 265.6h0M427.9 269.9h0M266.3 438.4h0M327.9 390.7h0M304.4 415.5h0M350.5 363.5h0M283.7 428.5h0M332.4 385.8h0M366.9 341.3h0M338.4 378.8h0M389.6 312.3h0M392.0 308.6h0M277.6 433.4h0M333.9 384.0h0M286.5 426.5h0M376.4 330.5h0M327.8 391.8h0M269.8 436.4h0M301.0 417.1h0M301.3 418.0h0M381.8 321.9h0M274.3 434.9h0M364.8 345.2h0M360.6 350.9h0M282.7 428.0h0M301.6 416.0h0M430.9 266.8h0M368.2 341.6h0M397.0 301.7h0M296.5 419.4h0M395.1 305.3h0M328.9 389.6h0M282.1 429.5h0M377.2 329.7h0M406.6 291.6h0M318.5 401.8h0M291.6 424.7h0M263.5 438.9h0M284.4 429.1h0M407.4 289.5h0M407.2 291.1h0M315.9 404.2h0M390.2 310.6h0M249.7 447.9h0M318.6 401.6h0M352.0 361.5h0M228.4 456.2h0M305.6 413.5h0M304.0 416.4h0M295.6 421.4h0M358.3 352.8h0M228.4 456.9h0M355.4 357.1h0M267.1 438.8h0M419.6 277.3h0M350.1 364.9h0M293.3 421.3h0M294.0 422.4h0M353.5 360.3h0M250.3 445.8h0M291.0 423.7h0M302.1 417.9h0M249.0 448.5h0M275.7 434.4h0M276.4 433.3h0M305.1 413.8h0M395.3 305.3h0M281.9 430.3h0M327.1 393.3h0M235.7 453.1h0M273.0 435.2h0M391.3 310.2h0M342.0 375.0h0M396.0 302.7h0M279.9 431.5h0M318.7 402.9h0M243.6 449.8h0M269.7 435.3h0M244.1 448.6h0M303.4 415.9h0M333.2 384.5h0M375.0 331.7h0M435.2 261.7h0M333.8 384.4h0M304.0 416.6h0M269.1 437.8h0M301.0 417.2h0M356.3 356.6h0M285.1 426.6h0M429.5 267.9h0M248.6 447.8h0M338.4 378.8h0M294.7 422.4h0M296.8 420.0h0M429.8 267.5h0M310.5 410.5h0M366.5 343.0h0M320.0 400.0h0M274.1 435.1h0M322.4 398.3h0M304.7 415.9h0M230.2 455.0h0M430.6 267.5h0M369.3 338.9h0M325.6 393.0h0M261.2 441.3h0M373.2 333.3h0M362.6 346.8h0M355.9 356.2h0M333.6 384.2h0M342.5 373.8h0M328.0 391.3h0M253.0 444.7h0M370.0 338.2h0M356.7 356.6h0M346.9 368.1h0M319.2 402.0h0M345.9 370.8h0M302.3 416.6h0M432.6 265.9h0M364.4 344.3h0M355.6 356.2h0M424.9 273.9h0M380.6 323.6h0M405.9 290.6h0M402.1 296.2h0M227.4 457.8h0M318.7 402.6h0M372.1 335.5h0M409.5 287.1h0M417.3 279.8h0M229.6 455.5h0M238.2 451.2h0M358.3 352.8h0M258.4 441.9h0M284.0 429.4h0M418.7 279.7h0M436.9 260.6h0M395.2 304.1h0M423.3 275.1h0M381.5 322.3h0M243.7 450.9h0M342.8 374.5h0M409.4 287.0h0M374.4 332.3h0M393.1 307.1h0M266.3 439.5h0M284.5 428.6h0M402.8 294.7h0M373.5 333.3h0M272.2 434.6h0M429.2 268.1h0M333.7 384.6h0M229.7 456.5h0M399.5 350.7h0M339.1 414.1h0M337.6 416.3h0M385.9 367.3h0M365.2 390.1h0M426.4 309.2h0M362.4 394.1h0M314.3 433.4h0M338.5 415.8h0M298.2 442.8h0M382.4 371.6h0M342.2 412.3h0M317.4 430.8h0M283.9 451.8h0M323.1 427.6h0M369.4 386.6h0M380.9 372.7h0M404.5 342.6h0M417.8 323.8h0M389.0 364.2h0M351.5 404.3h0M431.8 299.7h0M299.2 442.4h0M362.8 392.5h0M318.0 431.2h0M343.9 410.0h0M312.0 434.7h0M313.1 433.8h0M367.2 388.6h0M361.9 394.7h0M286.2 450.9h0M314.6 432.0h0M402.9 345.3h0M367.2 388.1h0M405.1 341.8h0M396.6 353.2h0M372.7 383.1h0M341.4 412.8h0M293.7 446.1h0M391.1 360.3h0M369.2 387.0h0M299.3 443.2h0M418.9 320.6h0M322.2 426.8h0M322.9 426.3h0M359.7 395.8h0M330.3 421.6h0M341.4 413.4h0M396.0 353.9h0M318.3 429.4h0M334.8 417.4h0M392.0 360.3h0M438.4 287.8h0M289.3 448.8h0M347.6 408.3h0M344.6 409.7h0M294.9 446.0h0M363.2 392.6h0M351.6 404.4h0M412.8 330.8h0M311.3 434.8h0M422.2 316.1h0M386.4 367.0h0M355.3 400.6h0M321.7 428.1h0M418.1 322.0h0M341.0 413.9h0M435.7 292.4h0M381.1 373.5h0M414.7 327.9h0M303.9 439.3h0M394.4 357.1h0M315.4 432.6h0M385.7 368.0h0M287.0 449.5h0M334.1 418.9h0M335.9 416.5h0M387.8 364.7h0M406.5 339.7h0M368.5 388.0h0M301.6 441.6h0M294.2 446.4h0M287.5 449.8h0M340.9 412.6h0M345.0 409.7h0M348.1 406.3h0M364.9 390.7h0M434.0 296.1h0M351.3 403.6h0M434.2 295.6h0M384.1 370.3h0M344.7 410.4h0M326.9 423.4h0M290.1 447.8h0M419.5 320.0h0M352.1 403.9h0M326.5 423.8h0M364.3 391.5h0M429.5 304.8h0M320.6 428.8h0M348.3 405.9h0M352.7 403.7h0M330.7 421.5h0M394.1 356.3h0M427.3 307.1h0M330.5 421.9h0M286.6 449.6h0M303.3 440.1h0M286.0 449.5h0M318.2 429.6h0M297.7 443.0h0M364.1 391.2h0M411.3 333.0h0M322.7 426.7h0M414.2 328.0h0M399.0 349.8h0M430.5 302.3h0M376.5 379.2h0M299.2 441.8h0M391.4 360.7h0M395.7 354.6h0M360.9 394.5h0M351.6 403.5h0M374.7 380.3h0M326.3 424.9h0M296.9 444.6h0M360.7 394.8h0M301.5 441.3h0M361.9 394.5h0M341.7 412.3h0M422.4 315.5h0M436.2 293.3h0M437.6 290.8h0M323.6 427.2h0M378.7 375.4h0M438.7 288.2h0M409.5 335.9h0M295.9 445.3h0M310.9 434.8h0M379.4 374.6h0M355.5 400.7h0M298.5 443.4h0M299.8 442.2h0M384.6 369.4h0M290.3 447.2h0M432.9 298.0h0M349.6 405.4h0M391.8 360.5h0M384.7 368.7h0M372.2 383.4h0M312.8 434.9h0M433.6 297.5h0M437.9 289.2h0M414.1 328.5h0M399.1 350.9h0M429.5 304.7h0M420.3 318.8h0M406.0 340.7h0M332.2 420.0h0M407.8 338.9h0M414.9 328.0h0M310.1 435.1h0M371.9 383.1h0M335.9 416.5h0M307.6 437.8h0M318.4 430.9h0M334.8 418.8h0M330.6 420.9h0M345.0 408.8h0M351.3 403.9h0M285.5 451.1h0M341.9 411.4h0M432.9 297.7h0M322.9 426.2h0M299.1 443.1h0M374.1 381.3h0M321.9 427.4h0M434.4 295.3h0M437.5 290.9h0M303.0 441.0h0M286.8 450.1h0M409.5 336.2h0M369.1 387.3h0M307.6 437.5h0M324.9 425.5h0M313.3 434.1h0M372.7 383.3h0M381.3 373.2h0M427.0 309.0h0M371.7 383.6h0M427.9 306.6h0M299.5 442.2h0M393.4 358.8h0M384.0 370.1h0M429.4 304.9h0M352.9 402.6h0M401.7 346.5h0M300.7 442.0h0M409.4 335.5h0M389.9 363.2h0M303.4 439.3h0M360.2 395.4h0M431.2 302.1h0M352.9 403.3h0M381.8 371.8h0M434.7 294.5h0M295.4 444.8h0M286.3 449.9h0M347.7 408.3h0M347.9 407.8h0M404.8 342.6h0M320.6 428.4h0M360.0 395.7h0M384.0 369.8h0M333.8 419.1h0M438.6 287.6h0M335.8 416.4h0M298.2 442.4h0M349.3 406.5h0M392.1 360.6h0M413.7 329.6h0M373.8 380.6h0M343.2 410.8h0M380.1 373.6h0M367.9 387.7h0M360.1 395.7h0M299.5 442.9h0M408.0 338.1h0M301.6 441.4h0M419.0 322.2h0M401.5 346.2h0M420.2 319.7h0M326.6 425.2h0M412.1 332.7h0M322.1 427.8h0M342.5 411.5h0M402.0 346.7h0M335.2 417.9h0M428.0 306.9h0M425.6 310.7h0M437.9 288.5h0M355.1 400.7h0M396.6 354.7h0M380.5 373.9h0M382.2 372.0h0M393.2 359.1h0M285.7 449.9h0M419.9 319.1h0M406.5 339.3h0M384.4 369.9h0M320.6 428.5h0M318.8 430.4h0M365.8 390.3h0M334.2 418.8h0M432.0 300.3h0M431.6 300.0h0M363.8 391.9h0M337.4 416.6h0M310.8 435.4h0M404.0 344.6h0M286.5 449.4h0M360.3 396.5h0M309.0 437.2h0M345.3 409.5h0M427.9 306.0h0M334.8 417.5h0M304.4 439.1h0M392.6 359.2h0M302.5 441.2h0M362.5 392.8h0M411.2 333.9h0M317.3 431.9h0M409.6 335.1h0M283.7 452.0h0M412.0 331.2h0M402.8 345.9h0M382.1 372.6h0M436.7 291.1h0M413.3 331.0h0M332.3 420.4h0M390.0 363.0h0M371.7 383.4h0M322.7 427.3h0M304.6 440.0h0M421.9 316.3h0M392.0 360.1h0M302.5 441.1h0M402.8 345.0h0M298.8 442.4h0M403.6 344.2h0M410.4 333.8h0M300.1 441.8h0M420.4 318.4h0M295.0 445.6h0M297.8 443.8h0M296.6 443.7h0M386.8 367.1h0M347.2 407.7h0M288.4 448.5h0M321.2 428.8h0M413.6 330.7h0M397.3 353.8h0M361.1 395.2h0M375.9 379.4h0M415.8 326.4h0M378.8 376.1h0M427.0 309.2h0M392.7 359.3h0M432.1 300.9h0M389.9 363.1h0M426.8 308.8h0M372.9 382.6h0M394.6 357.4h0M363.7 392.7h0M438.3 289.2h0M383.9 371.0h0M429.5 304.5h0M360.8 395.9h0M415.9 327.4h0M408.7 337.1h0M395.8 355.1h0M389.6 363.4h0M431.3 302.3h0M432.5 299.4h0M435.9 292.9h0M432.0 300.5h0M427.7 307.6h0M438.3 288.5h0M425.5 311.9h0M383.2 371.8h0M368.8 387.9h0M391.6 360.7h0M367.3 389.6h0M415.1 327.3h0M437.1 290.9h0M383.3 371.0h0M401.3 348.7h0M434.2 296.7h0M382.4 371.6h0M355.9 400.5h0M401.9 347.1h0M437.5 290.4h0M381.1 373.6h0M365.1 392.1h0M402.6 346.3h0M387.8 365.3h0M377.9 377.5h0M389.6 364.1h0M400.1 349.2h0M354.6 401.2h0M380.7 374.8h0M429.2 304.8h0M419.5 321.0h0M397.8 352.8h0M353.6 401.9h0M409.4 336.8h0M383.7 371.3h0M423.0 315.1h0M355.7 400.7h0M408.2 337.8h0M353.7 402.5h0M352.8 403.7h0M405.6 341.5h0M389.6 363.0h0M366.4 389.6h0M422.6 316.0h0M413.7 329.9h0M421.8 317.5h0M408.2 338.1h0M399.9 349.3h0M436.8 292.3h0M397.3 353.6h0M358.7 397.5h0M370.4 386.5h0M350.9 405.0h0M427.4 308.7h0M414.0 329.3h0M370.5 386.1h0M376.4 379.5h0M381.0 374.3h0M401.0 349.0h0M437.8 289.9h0M437.9 289.1h0M428.1 306.2h0M398.5 351.7h0M418.5 322.3h0M368.4 388.5h0M398.9 351.6h0M393.5 357.7h0M418.7 322.0h0M391.9 359.7h0M372.9 383.4h0M418.0 323.6h0M389.4 364.1h0M409.5 335.8h0M397.6 353.2h0M414.9 327.8h0M377.5 377.7h0M358.3 397.9h0M414.9 328.3h0M365.2 391.7h0M360.2 396.7h0M363.0 392.9h0M372.2 383.9h0M373.9 382.7h0M433.6 297.3h0M416.8 325.7h0M399.9 349.5h0M434.6 296.6h0M350.9 404.8h0M378.4 376.4h0M388.2 365.8h0M351.9 404.7h0M377.4 377.3h0M430.1 303.2h0M368.7 387.1h0M382.6 371.4h0M365.8 390.3h0M401.4 347.7h0M377.0 378.6h0M418.9 322.4h0M380.4 375.2h0M420.5 319.7h0M392.2 359.8h0M361.7 395.4h0M404.1 343.4h0M432.4 300.2h0M352.8 403.7h0M371.0 385.2h0M424.3 313.1h0M394.3 357.7h0M366.9 389.7h0M387.7 366.5h0M366.5 390.3h0M353.4 402.4h0M360.3 395.7h0M397.0 353.4h0M420.8 318.4h0M405.4 342.8h0M361.1 395.0h0M418.1 323.3h0M433.0 298.3h0M385.3 369.5h0M380.5 375.3h0M429.4 304.4h0M398.5 352.5h0M360.2 396.8h0M418.9 322.4h0M403.4 344.4h0M435.4 293.8h0M419.8 321.0h0M378.1 377.6h0M386.4 367.7h0M353.6 403.2h0M384.1 370.7h0M391.9 361.0h0M376.7 379.0h0M352.0 404.0h0M356.8 400.1h0M410.3 335.1h0"/>
<path fill="none" stroke="#008B8B" stroke-width="1.75" stroke-linejoin="round" d="M71.8 496.5 L75.1 496.3 L78.4 496.0 L81.7 495.8 L85.0 495.5 L88.3 495.2 L91.7 494.9 L95.0 494.6 L98.3 494.3 L101.6 494.0 L104.9 493.7 L108.2 493.3 L111.5 492.9 L114.8 492.6 L118.1 492.2 L121.4 491.7 L124.7 491.3 L128.1 490.9 L131.4 490.4 L134.7 489.9 L138.0 489.4 L141.3 488.9 L144.6 488.4 L147.9 487.9 L151.2 487.3 L154.5 486.7 L157.8 486.1 L161.1 485.5 L164.5 484.8 L167.8 484.1 L171.1 483.4 L174.4 482.7 L177.7 481.9 L181.0 481.2 L184.3 480.4 L187.6 479.5 L190.9 478.7 L194.2 477.8 L197.5 476.9 L200.9 475.9 L204.2 474.9 L207.5 473.9 L210.8 472.9 L214.1 471.8 L217.4 470.7 L220.7 469.5 L224.0 468.4 L227.3 467.1 L230.6 465.9 L233.9 464.6 L237.2 463.2 L240.6 461.8 L243.9 460.4 L247.2 458.9 L250.5 457.4 L253.8 455.8 L257.1 454.2 L260.4 452.5 L263.7 450.8 L267.0 449.0 L270.3 447.2 L273.6 445.3 L277.0 443.4 L280.3 441.4 L283.6 439.4 L286.9 437.3 L290.2 435.1 L293.5 432.8 L296.8 430.5 L300.1 428.2 L303.4 425.7 L306.7 423.2 L310.0 420.7 L313.4 418.0 L316.7 415.3 L320.0 412.5 L323.3 409.6 L326.6 406.6 L329.9 403.6 L333.2 400.5 L336.5 397.3 L339.8 394.0 L343.1 390.6 L346.4 387.1 L349.8 383.5 L353.1 379.8 L356.4 376.1 L359.7 372.2 L363.0 368.2 L366.3 364.1 L369.6 359.9 L372.9 355.6 L376.2 351.2 L379.5 346.7 L382.8 342.0 L386.2 337.2 L389.5 332.4 L392.8 327.3 L396.1 322.2 L399.4 316.9 L402.7 311.5 L406.0 305.9 L409.3 300.3 L412.6 294.4 L415.9 288.4 L419.2 282.3 L422.6 276.0 L425.9 269.6 L429.2 263.0 L432.5 256.3 L435.8 249.3 L439.1 242.2 L442.4 235.0"/>
<path fill="none" stroke="#0000FF" stroke-width="1.75" stroke-linejoin="round" d="M71.8 494.3 L75.1 494.0 L78.4 493.7 L81.7 493.4 L85.0 493.1 L88.3 492.8 L91.7 492.4 L95.0 492.1 L98.3 491.7 L101.6 491.3 L104.9 490.9 L108.2 490.5 L111.5 490.1 L114.8 489.6 L118.1 489.2 L121.4 488.7 L124.7 488.2 L128.1 487.7 L131.4 487.2 L134.7 486.7 L138.0 486.2 L141.3 485.6 L144.6 485.0 L147.9 484.4 L151.2 483.8 L154.5 483.2 L157.8 482.5 L161.1 481.9 L164.5 481.2 L167.8 480.5 L171.1 479.8 L174.4 479.0 L177.7 478.2 L181.0 477.4 L184.3 476.6 L187.6 475.8 L190.9 474.9 L194.2 474.0 L197.5 473.1 L200.9 472.2 L204.2 471.2 L207.5 470.2 L210.8 469.2 L214.1 468.1 L217.4 467.1 L220.7 466.0 L224.0 464.8 L227.3 463.7 L230.6 462.5 L233.9 461.2 L237.2 460.0 L240.6 458.7 L243.9 457.4 L247.2 456.0 L250.5 454.6 L253.8 453.2 L257.1 451.7 L260.4 450.2 L263.7 448.6 L267.0 447.0 L270.3 445.4 L273.6 443.8 L277.0 442.0 L280.3 440.3 L283.6 438.5 L286.9 436.7 L290.2 434.8 L293.5 432.8 L296.8 430.9 L300.1 428.8 L303.4 426.8 L306.7 424.6 L310.0 422.5 L313.4 420.2 L316.7 418.0 L320.0 415.6 L323.3 413.2 L326.6 410.8 L329.9 408.3 L333.2 405.7 L336.5 403.1 L339.8 400.4 L343.1 397.7 L346.4 394.9 L349.8 392.0 L353.1 389.1 L356.4 386.1 L359.7 383.0 L363.0 379.9 L366.3 376.7 L369.6 373.4 L372.9 370.1 L376.2 366.6 L379.5 363.2 L382.8 359.6 L386.2 355.9 L389.5 352.2 L392.8 348.4 L396.1 344.5 L399.4 340.5 L402.7 336.5 L406.0 332.3 L409.3 328.1 L412.6 323.8 L415.9 319.4 L419.2 314.9 L422.6 310.3 L425.9 305.6 L429.2 300.8 L432.5 295.9 L435.8 290.9 L439.1 285.8 L442.4 280.6"/>
<path fill="none" stroke="#FF0000" stroke-width="1.75" stroke-linejoin="round" d="M71.8 492.4 L75.1 492.0 L78.4 491.7 L81.7 491.3 L85.0 490.9 L88.3 490.5 L91.7 490.1 L95.0 489.6 L98.3 489.2 L101.6 488.7 L104.9 488.3 L108.2 487.8 L111.5 487.3 L114.8 486.8 L118.1 486.2 L121.4 485.7 L124.7 485.1 L128.1 484.6 L131.4 484.0 L134.7 483.3 L138.0 482.7 L141.3 482.1 L144.6 481.4 L147.9 480.7 L151.2 480.0 L154.5 479.3 L157.8 478.5 L161.1 477.8 L164.5 477.0 L167.8 476.2 L171.1 475.3 L174.4 474.5 L177.7 473.6 L181.0 472.7 L184.3 471.8 L187.6 470.8 L190.9 469.8 L194.2 468.8 L197.5 467.8 L200.9 466.7 L204.2 465.7 L207.5 464.6 L210.8 463.4 L214.1 462.2 L217.4 461.0 L220.7 459.8 L224.0 458.5 L227.3 457.3 L230.6 455.9 L233.9 454.6 L237.2 453.2 L240.6 451.7 L243.9 450.3 L247.2 448.8 L250.5 447.2 L253.8 445.7 L257.1 444.1 L260.4 442.4 L263.7 440.7 L267.0 439.0 L270.3 437.2 L273.6 435.4 L277.0 433.6 L280.3 431.7 L283.6 429.7 L286.9 427.7 L290.2 425.7 L293.5 423.6 L296.8 421.5 L300.1 419.3 L303.4 417.1 L306.7 414.8 L310.0 412.5 L313.4 410.1 L316.7 407.7 L320.0 405.2 L323.3 402.7 L326.6 400.1 L329.9 397.4 L333.2 394.7 L336.5 391.9 L339.8 389.1 L343.1 386.2 L346.4 383.3 L349.8 380.2 L353.1 377.2 L356.4 374.0 L359.7 370.8 L363.0 367.5 L366.3 364.2 L369.6 360.8 L372.9 357.3 L376.2 353.7 L379.5 350.1 L382.8 346.4 L386.2 342.6 L389.5 338.8 L392.8 334.8 L396.1 330.8 L399.4 326.7 L402.7 322.5 L406.0 318.3 L409.3 313.9 L412.6 309.5 L415.9 305.0 L419.2 300.4 L422.6 295.7 L425.9 290.9 L429.2 286.0 L432.5 281.0 L435.8 275.9 L439.1 270.8 L442.4 265.5"/>
<path fill="none" stroke="#FF8000" stroke-width="1.75" stroke-linejoin="round" d="M71.8 488.2 L75.1 487.8 L78.4 487.3 L81.7 486.9 L85.0 486.4 L88.3 485.9 L91.7 485.4 L95.0 484.9 L98.3 484.3 L101.6 483.8 L104.9 483.2 L108.2 482.6 L111.5 482.1 L114.8 481.5 L118.1 480.8 L121.4 480.2 L124.7 479.5 L128.1 478.9 L131.4 478.2 L134.7 477.5 L138.0 476.8 L141.3 476.0 L144.6 475.3 L147.9 474.5 L151.2 473.7 L154.5 472.9 L157.8 472.1 L161.1 471.3 L164.5 470.4 L167.8 469.5 L171.1 468.6 L174.4 467.7 L177.7 466.7 L181.0 465.8 L184.3 464.8 L187.6 463.8 L190.9 462.7 L194.2 461.7 L197.5 460.6 L200.9 459.5 L204.2 458.4 L207.5 457.2 L210.8 456.1 L214.1 454.9 L217.4 453.6 L220.7 452.4 L224.0 451.1 L227.3 449.8 L230.6 448.5 L233.9 447.1 L237.2 445.7 L240.6 444.3 L243.9 442.9 L247.2 441.4 L250.5 439.9 L253.8 438.3 L257.1 436.8 L260.4 435.2 L263.7 433.5 L267.0 431.9 L270.3 430.2 L273.6 428.5 L277.0 426.7 L280.3 424.9 L283.6 423.1 L286.9 421.2 L290.2 419.3 L293.5 417.4 L296.8 415.4 L300.1 413.4 L303.4 411.3 L306.7 409.2 L310.0 407.1 L313.4 404.9 L316.7 402.7 L320.0 400.5 L323.3 398.2 L326.6 395.8 L329.9 393.5 L333.2 391.1 L336.5 388.6 L369.6 361.4 L402.7 329.2 L435.8 291.2 L468.9 246.7"/>
<path fill="none" stroke="#FF00FF" stroke-width="1.75" stroke-linejoin="round" d="M71.8 496.0 L75.1 495.8 L78.4 495.5 L81.7 495.2 L85.0 494.9 L88.3 494.7 L91.7 494.4 L95.0 494.0 L98.3 493.7 L101.6 493.4 L104.9 493.0 L108.2 492.7 L111.5 492.3 L114.8 491.9 L118.1 491.5 L121.4 491.1 L124.7 490.7 L128.1 490.2 L131.4 489.7 L134.7 489.3 L138.0 488.8 L141.3 488.3 L144.6 487.7 L147.9 487.2 L151.2 486.6 L154.5 486.0 L157.8 485.4 L161.1 484.8 L164.5 484.1 L167.8 483.5 L171.1 482.8 L174.4 482.1 L177.7 481.3 L181.0 480.6 L184.3 479.8 L187.6 479.0 L190.9 478.1 L194.2 477.3 L197.5 476.4 L200.9 475.5 L204.2 474.5 L207.5 473.6 L210.8 472.5 L214.1 471.5 L217.4 470.4 L220.7 469.3 L224.0 468.2 L227.3 467.0 L230.6 465.8 L233.9 464.6 L237.2 463.3 L240.6 462.0 L243.9 460.6 L247.2 459.2 L250.5 457.8 L253.8 456.3 L257.1 454.8 L260.4 453.2 L263.7 451.6 L267.0 450.0 L270.3 448.3 L273.6 446.5 L277.0 444.7 L280.3 442.9 L283.6 441.0 L286.9 439.0 L290.2 437.0 L293.5 435.0 L296.8 432.8 L300.1 430.7 L303.4 428.4 L306.7 426.1 L310.0 423.8 L313.4 421.4 L316.7 418.9 L320.0 416.3 L323.3 413.7 L326.6 411.0 L329.9 408.3 L333.2 405.4 L336.5 402.5 L339.8 399.6 L343.1 396.5 L346.4 393.4 L349.8 390.2 L353.1 386.9 L356.4 383.5 L359.7 380.0 L363.0 376.5 L366.3 372.8 L369.6 369.1 L372.9 365.3 L376.2 361.4 L379.5 357.3 L382.8 353.2 L386.2 349.0 L389.5 344.7 L392.8 340.3 L396.1 335.8 L399.4 331.1 L402.7 326.4 L406.0 321.5 L409.3 316.5 L412.6 311.5 L415.9 306.2 L419.2 300.9 L422.6 295.4 L425.9 289.9 L429.2 284.1 L432.5 278.3 L435.8 272.3 L439.1 266.2 L442.4 259.9"/>
<path fill="none" stroke="#800000" stroke-width="1.75" stroke-linejoin="round" d="M71.8 494.2 L75.1 493.9 L78.4 493.6 L81.7 493.3 L85.0 492.9 L88.3 492.6 L91.7 492.2 L95.0 491.9 L98.3 491.5 L101.6 491.1 L104.9 490.6 L108.2 490.2 L111.5 489.8 L114.8 489.3 L118.1 488.8 L121.4 488.3 L124.7 487.8 L128.1 487.3 L131.4 486.8 L134.7 486.2 L138.0 485.6 L141.3 485.0 L144.6 484.4 L147.9 483.8 L151.2 483.2 L154.5 482.5 L157.8 481.8 L161.1 481.1 L164.5 480.3 L167.8 479.6 L171.1 478.8 L174.4 478.0 L177.7 477.2 L181.0 476.3 L184.3 475.4 L187.6 474.5 L190.9 473.6 L194.2 472.6 L197.5 471.7 L200.9 470.6 L204.2 469.6 L207.5 468.5 L210.8 467.4 L214.1 466.3 L217.4 465.1 L220.7 463.9 L224.0 462.7 L227.3 461.4 L230.6 460.1 L233.9 458.8 L237.2 457.4 L240.6 456.0 L243.9 454.6 L247.2 453.1 L250.5 451.6 L253.8 450.0 L257.1 448.4 L260.4 446.7 L263.7 445.0 L267.0 443.3 L270.3 441.5 L273.6 439.7 L277.0 437.8 L280.3 435.9 L283.6 433.9 L286.9 431.9 L290.2 429.8 L293.5 427.7 L296.8 425.5 L300.1 423.2 L303.4 420.9 L306.7 418.6 L310.0 416.2 L313.4 413.7 L316.7 411.2 L320.0 408.6 L323.3 405.9 L326.6 403.2 L329.9 400.4 L333.2 397.6 L336.5 394.7 L339.8 391.7 L343.1 388.6 L346.4 385.5 L349.8 382.3 L353.1 379.0 L356.4 375.7 L359.7 372.2 L363.0 368.7 L366.3 365.1 L369.6 361.5 L372.9 357.7 L376.2 353.9 L379.5 349.9 L382.8 345.9 L386.2 341.8 L389.5 337.6 L392.8 333.3 L396.1 328.9 L399.4 324.5 L402.7 319.9 L406.0 315.2 L409.3 310.4 L412.6 305.5 L415.9 300.5 L419.2 295.4 L422.6 290.2 L425.9 284.9 L429.2 279.5 L432.5 273.9 L435.8 268.3 L439.1 262.5 L442.4 256.6"/>
<path fill="none" stroke="#000080" stroke-width="1.75" stroke-linejoin="round" d="M71.8 492.8 L75.1 492.5 L78.4 492.1 L81.7 491.8 L85.0 491.4 L88.3 491.0 L91.7 490.6 L95.0 490.2 L98.3 489.8 L101.6 489.3 L104.9 488.9 L108.2 488.4 L111.5 487.9 L114.8 487.4 L118.1 486.9 L121.4 486.4 L124.7 485.8 L128.1 485.3 L131.4 484.7 L134.7 484.1 L138.0 483.5 L141.3 482.9 L144.6 482.2 L147.9 481.6 L151.2 480.9 L154.5 480.2 L157.8 479.4 L161.1 478.7 L164.5 477.9 L167.8 477.1 L171.1 476.3 L174.4 475.5 L177.7 474.7 L181.0 473.8 L184.3 472.9 L187.6 471.9 L190.9 471.0 L194.2 470.0 L197.5 469.0 L200.9 468.0 L204.2 466.9 L207.5 465.8 L210.8 464.7 L214.1 463.6 L217.4 462.4 L220.7 461.2 L224.0 460.0 L227.3 458.7 L230.6 457.4 L233.9 456.1 L237.2 454.7 L240.6 453.3 L243.9 451.9 L247.2 450.4 L250.5 448.9 L253.8 447.4 L257.1 445.8 L260.4 444.2 L263.7 442.5 L267.0 440.8 L270.3 439.1 L273.6 437.3 L277.0 435.5 L280.3 433.6 L283.6 431.7 L286.9 429.8 L290.2 427.8 L293.5 425.7 L296.8 423.7 L300.1 421.5 L303.4 419.3 L306.7 417.1 L310.0 414.8 L313.4 412.5 L316.7 410.1 L320.0 407.6 L323.3 405.1 L326.6 402.6 L329.9 399.9 L333.2 397.3 L336.5 394.5 L339.8 391.7 L343.1 388.9 L346.4 386.0 L349.8 383.0 L353.1 380.0 L356.4 376.9 L359.7 373.7 L363.0 370.4 L366.3 367.1 L369.6 363.8 L372.9 360.3 L376.2 356.8 L379.5 353.2 L382.8 349.5 L386.2 345.8 L389.5 342.0 L392.8 338.1 L396.1 334.1 L399.4 330.0 L402.7 325.9 L406.0 321.6 L409.3 317.3 L412.6 312.9 L415.9 308.5 L419.2 303.9 L422.6 299.2 L425.9 294.5 L429.2 289.6 L432.5 284.7 L435.8 279.6 L439.1 274.5 L442.4 269.2"/>
<path fill="none" stroke="#808000" stroke-width="1.75" stroke-linejoin="round" d="M71.8 493.3 L75.1 492.9 L78.4 492.6 L81.7 492.3 L85.0 491.9 L88.3 491.6 L91.7 491.2 L95.0 490.8 L98.3 490.4 L101.6 490.0 L104.9 489.6 L108.2 489.1 L111.5 488.7 L114.8 488.2 L118.1 487.7 L121.4 487.2 L124.7 486.7 L128.1 486.2 L131.4 485.7 L134.7 485.1 L138.0 484.6 L141.3 484.0 L144.6 483.4 L147.9 482.8 L151.2 482.1 L154.5 481.5 L157.8 480.8 L161.1 480.1 L164.5 479.4 L167.8 478.7 L171.1 477.9 L174.4 477.2 L177.7 476.4 L181.0 475.5 L184.3 474.7 L187.6 473.9 L190.9 473.0 L194.2 472.1 L197.5 471.2 L200.9 470.2 L204.2 469.2 L207.5 468.2 L210.8 467.2 L214.1 466.1 L217.4 465.1 L220.7 464.0 L224.0 462.8 L227.3 461.7 L230.6 460.5 L233.9 459.2 L237.2 458.0 L240.6 456.7 L243.9 455.4 L247.2 454.0 L250.5 452.7 L253.8 451.3 L257.1 449.8 L260.4 448.3 L263.7 446.8 L267.0 445.3 L270.3 443.7 L273.6 442.0 L277.0 440.4 L280.3 438.7 L283.6 436.9 L286.9 435.1 L290.2 433.3 L293.5 431.4 L296.8 429.5 L300.1 427.6 L303.4 425.6 L306.7 423.5 L310.0 421.5 L313.4 419.3 L316.7 417.1 L320.0 414.9 L323.3 412.6 L326.6 410.3 L329.9 407.9 L333.2 405.5 L336.5 403.0 L339.8 400.5 L343.1 397.9 L346.4 395.2 L349.8 392.5 L353.1 389.7 L356.4 386.9 L359.7 384.0 L363.0 381.1 L366.3 378.1 L369.6 375.0 L372.9 371.9 L376.2 368.7 L379.5 365.5 L382.8 362.1 L386.2 358.7 L389.5 355.3 L392.8 351.8 L396.1 348.2 L399.4 344.5 L402.7 340.7 L406.0 336.9 L409.3 333.0 L412.6 329.0 L415.9 325.0 L419.2 320.9 L422.6 316.6 L425.9 312.4 L429.2 308.0 L432.5 303.5 L435.8 299.0 L439.1 294.3 L442.4 289.6"/>
<path fill="none" stroke="#008000" stroke-width="1.75" stroke-linejoin="round" d="M71.8 497.4 L75.1 497.2 L78.4 497.0 L81.7 496.8 L85.0 496.6 L88.3 496.4 L91.7 496.1 L95.0 495.9 L98.3 495.6 L101.6 495.4 L104.9 495.1 L108.2 494.8 L111.5 494.5 L114.8 494.2 L118.1 493.8 L121.4 493.5 L124.7 493.2 L128.1 492.8 L131.4 492.4 L134.7 492.0 L138.0 491.6 L141.3 491.2 L144.6 490.8 L147.9 490.3 L151.2 489.8 L154.5 489.3 L157.8 488.8 L161.1 488.3 L164.5 487.8 L167.8 487.2 L171.1 486.6 L174.4 486.0 L177.7 485.4 L181.0 484.8 L184.3 484.1 L187.6 483.4 L190.9 482.7 L194.2 482.0 L197.5 481.2 L200.9 480.4 L204.2 479.6 L207.5 478.8 L210.8 477.9 L214.1 477.0 L217.4 476.1 L220.7 475.1 L224.0 474.1 L227.3 473.1 L230.6 472.1 L233.9 471.0 L237.2 469.8 L240.6 468.7 L243.9 467.5 L247.2 466.3 L250.5 465.0 L253.8 463.7 L257.1 462.3 L260.4 461.0 L263.7 459.5 L267.0 458.0 L270.3 456.5 L273.6 455.0 L277.0 453.3 L280.3 451.7 L283.6 450.0 L286.9 448.2 L290.2 446.4 L293.5 444.5 L296.8 442.6 L300.1 440.6 L303.4 438.6 L306.7 436.5 L310.0 434.3 L313.4 432.1 L316.7 429.8 L320.0 427.5 L323.3 425.1 L326.6 422.6 L329.9 420.1 L333.2 417.4 L336.5 414.8 L339.8 412.0 L343.1 409.1 L346.4 406.2 L349.8 403.2 L353.1 400.1 L356.4 397.0 L359.7 393.7 L363.0 390.4 L366.3 387.0 L369.6 383.4 L372.9 379.8 L376.2 376.1 L379.5 372.3 L382.8 368.4 L386.2 364.4 L389.5 360.3 L392.8 356.1 L396.1 351.7 L399.4 347.3 L402.7 342.7 L406.0 338.1 L409.3 333.3 L412.6 328.4 L415.9 323.4 L419.2 318.2 L422.6 312.9 L425.9 307.5 L429.2 301.9 L432.5 296.2 L435.8 290.4 L439.1 284.4 L442.4 278.3"/>
</g>
<circle cx="145.3" cy="480.8" r="2.6" fill="#f00"/>
<circle cx="412.6" cy="332.5" r="2.6" fill="#f00"/>
<path d="M424.2 373.5L415.2 340.5" stroke="#f00" stroke-width="1.2" fill="none"/>
<path d="M413.5 334.4L418.2 342.3L413.4 343.6Z" fill="#f00"/>
<text x="82.6" y="474.8" font-size="15.6" fill="#f00" stroke="#f00" style="stroke-width:0.1px">(9.11, 70)</text>
<text x="383.5" y="386.9" font-size="15.6" fill="#f00" stroke="#f00" style="stroke-width:0.1px">(13.14, 580)</text>
<g stroke="#000" stroke-width="1.3" fill="none" stroke-linecap="square">
<path d="M71.5 209.9V501.5"/>
<path d="M71.5 209.9H436"/>
<path d="M71.5 501.5H436"/>
</g>
<g stroke="#000" stroke-width="1.2" fill="none">
<path d="M72 501.50h5.5"/>
<path d="M72 472.34h3"/>
<path d="M72 443.18h5.5"/>
<path d="M72 414.02h3"/>
<path d="M72 384.86h5.5"/>
<path d="M72 355.70h3"/>
<path d="M72 326.54h5.5"/>
<path d="M72 297.38h3"/>
<path d="M72 268.22h5.5"/>
<path d="M72 239.06h3"/>
<path d="M72 209.90h5.5"/>
<path d="M71.80 501.5v-5.3"/>
<path d="M71.80 209.9v5.3"/>
<path d="M104.89 501.5v-2.8"/>
<path d="M104.89 209.9v2.8"/>
<path d="M137.98 501.5v-5.3"/>
<path d="M137.98 209.9v5.3"/>
<path d="M171.07 501.5v-2.8"/>
<path d="M171.07 209.9v2.8"/>
<path d="M204.16 501.5v-5.3"/>
<path d="M204.16 209.9v5.3"/>
<path d="M237.25 501.5v-2.8"/>
<path d="M237.25 209.9v2.8"/>
<path d="M270.34 501.5v-5.3"/>
<path d="M270.34 209.9v5.3"/>
<path d="M303.43 501.5v-2.8"/>
<path d="M303.43 209.9v2.8"/>
<path d="M336.52 501.5v-5.3"/>
<path d="M336.52 209.9v5.3"/>
<path d="M369.61 501.5v-2.8"/>
<path d="M369.61 209.9v2.8"/>
<path d="M402.70 501.5v-5.3"/>
<path d="M402.70 209.9v5.3"/>
<path d="M435.79 501.5v-2.8"/>
<path d="M435.79 209.9v2.8"/>
</g>
<g font-size="16.6" fill="#000" stroke="#000">
<text x="65" y="506.8" text-anchor="end">0</text>
<text x="65" y="448.5" text-anchor="end">200</text>
<text x="65" y="390.2" text-anchor="end">400</text>
<text x="65" y="331.8" text-anchor="end">600</text>
<text x="65" y="273.5" text-anchor="end">800</text>
<text x="65" y="215.2" text-anchor="end">1000</text>
<text x="71.8" y="522.2" text-anchor="middle">8</text>
<text x="138.0" y="522.2" text-anchor="middle">9</text>
<text x="204.2" y="522.2" text-anchor="middle">10</text>
<text x="270.3" y="522.2" text-anchor="middle">11</text>
<text x="336.5" y="522.2" text-anchor="middle">12</text>
<text x="402.7" y="522.2" text-anchor="middle">13</text>
</g>
<text y="554.4" font-size="21.6" fill="#000" stroke="#000"><tspan x="230.6">R</tspan><tspan x="245.2" y="559" font-size="14.5">1.4</tspan><tspan x="267.6" y="554.4">[km]</tspan></text>
<text transform="translate(20.6,370.2) rotate(-90)" font-size="17.7" fill="#000" stroke="#000">Λ<tspan font-size="13" dy="4.4" dx="-0.5">1.4</tspan></text>
<path d="M83.4 224.30H114.6" stroke="#008B8B" stroke-width="1.5" stroke-linecap="round"/>
<text x="123" y="229.5" font-size="15.5" fill="#000" stroke="#000">Annala et al. (2018)</text>
<path d="M83.4 243.68H114.6" stroke="#FF8000" stroke-width="1.5" stroke-linecap="round"/>
<text x="123" y="248.9" font-size="15.5" fill="#000" stroke="#000">Fattoyev et al. (2018)</text>
<path d="M83.4 263.06H114.6" stroke="#0000FF" stroke-width="1.5" stroke-linecap="round"/>
<text x="123" y="268.3" font-size="15.5" fill="#000" stroke="#000">Lourenço et al. (2019)</text>
<path d="M83.4 282.44H114.6" stroke="#FF00FF" stroke-width="1.5" stroke-linecap="round"/>
<text x="123" y="287.6" font-size="15.5" fill="#000" stroke="#000">Lourenço et al. arXiv:1901.04529</text>
<path d="M83.4 301.82H114.6" stroke="#FF0000" stroke-width="1.5" stroke-linecap="round"/>
<text x="123" y="307.0" font-size="15.5" fill="#000" stroke="#000">Malik et al. (2018)</text>
<path d="M83.4 321.20H114.6" stroke="#800000" stroke-width="1.5" stroke-linecap="round"/>
<text x="123" y="326.4" font-size="15.5" fill="#000" stroke="#000">Nandi et al. (2019)</text>
<path d="M83.4 340.58H114.6" stroke="#000080" stroke-width="1.5" stroke-linecap="round"/>
<text x="123" y="345.8" font-size="15.5" fill="#000" stroke="#000">Tong et al. arXiv:1903.05938</text>
<path d="M83.4 359.96H114.6" stroke="#808000" stroke-width="1.5" stroke-linecap="round"/>
<text x="123" y="365.2" font-size="15.5" fill="#000" stroke="#000">Tsang et al. arXiv:1905.02601</text>
<path d="M83.4 379.34H114.6" stroke="#008000" stroke-width="1.5" stroke-linecap="round"/>
<text x="123" y="384.5" font-size="15.5" fill="#000" stroke="#000">Zhou et al. arXiv:1901.11364</text>
</svg>
</body></html>
